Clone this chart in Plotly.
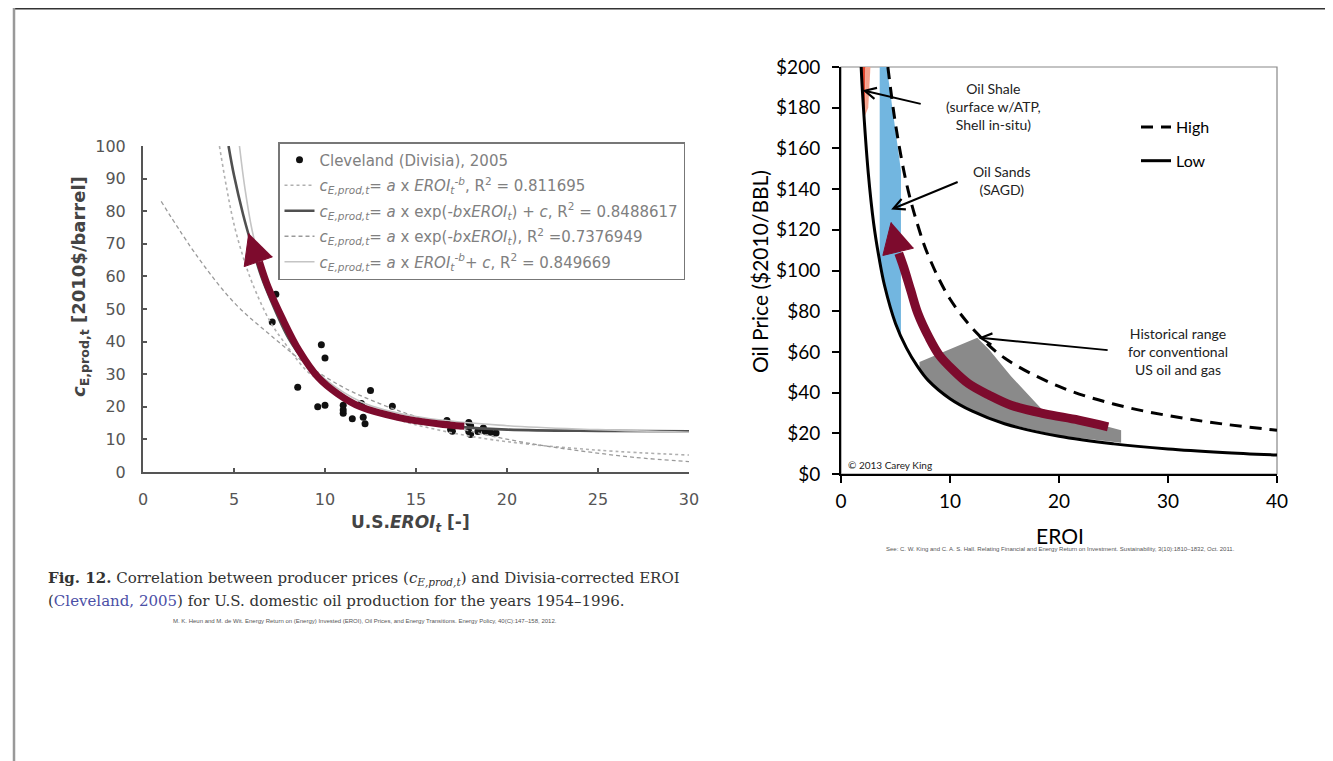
import plotly.graph_objects as go

W, H = 1333, 761
OFF = 8  # page body margin applied by the browser

# ---------------- Left chart data (Heun & de Wit, Fig. 12) ----------------
cleveland_eroi = [7.3, 7.1, 8.5, 9.6, 9.8, 10.0, 10.0, 11.0, 11.0, 11.0, 11.5, 12.1, 12.2, 12.0, 12.5,
                  13.7, 16.7, 16.9, 17.9, 17.9, 18.0, 18.0, 18.4, 18.8, 19.1, 19.4, 18.7, 17.0]
cleveland_price = [54.5, 46.0, 26.0, 20.0, 39.0, 35.0, 20.5, 20.5, 18.0, 19.0, 16.3, 16.8, 14.8, 21.0, 25.0,
                   20.2, 15.8, 13.0, 15.2, 12.4, 11.5, 14.2, 12.4, 12.5, 12.2, 12.0, 13.5, 12.5]

fit_power_x = [4.2, 4.6, 5, 5.5, 6, 7, 8, 9, 10, 12, 14, 17, 20, 25, 30]
fit_power_y = [100, 87, 76, 66, 58, 46, 38, 31, 27, 20, 16, 12, 9.3, 6.7, 5.2]

fit_expc_x = [4.7, 5, 5.5, 6, 6.5, 7, 8, 9, 10, 11, 12, 13, 15, 17, 20, 25, 30]
fit_expc_y = [100, 91, 79, 69, 60, 53, 41, 33, 27, 23, 20, 18, 15.2, 14, 13, 12.6, 12.5]

fit_exp_x = [1, 3, 5, 7, 9, 11, 13, 15, 18, 21, 24, 27, 30]
fit_exp_y = [83, 66, 52, 42, 33, 26, 21, 17, 12.5, 9, 6.5, 4.5, 3.2]

fit_powc_x = [5.3, 5.6, 6, 6.5, 7, 8, 9, 10, 12, 15, 20, 25, 30]
fit_powc_y = [100, 87, 74, 63, 54, 42, 34, 28.5, 21.5, 17, 14.2, 13, 12.2]

left_arrow_x = [17.65, 16.2, 14.06, 11.95, 10.7, 9.6, 8.56, 7.7, 6.87, 6.4]
left_arrow_y = [14.0, 14.8, 16.7, 20.0, 24.0, 29.2, 37.4, 46.6, 56.8, 64.5]
left_head_x = [5.81, 5.56, 7.12]
left_head_y = [73.2, 63.0, 66.0]

left_xticks = [0, 5, 10, 15, 20, 25, 30]
left_yticks = [0, 10, 20, 30, 40, 50, 60, 70, 80, 90, 100]

legend_names = [
    "Cleveland (Divisia), 2005",
    "<i>c<sub>E,prod,t</sub></i>= <i>a</i> x <i>EROI<sub>t</sub><sup>-b</sup></i>, R<sup>2</sup> = 0.811695",
    "<i>c<sub>E,prod,t</sub></i>= <i>a</i> x exp(-<i>b</i>x<i>EROI<sub>t</sub></i>) + <i>c</i>, R<sup>2</sup> = 0.8488617",
    "<i>c<sub>E,prod,t</sub></i>= <i>a</i> x exp(-<i>b</i>x<i>EROI<sub>t</sub></i>), R<sup>2</sup> =0.7376949",
    "<i>c<sub>E,prod,t</sub></i>= <i>a</i> x <i>EROI<sub>t</sub><sup>-b</sup></i>+ <i>c</i>, R<sup>2</sup> = 0.849669",
]

# ---------------- Right chart data (King & Hall) ----------------
low_eroi = [1.85, 2, 2.5, 3, 3.5, 4, 5, 6, 7, 8, 10, 12, 15, 20, 25, 30, 35, 40]
low_price = [200, 185, 148, 123, 106, 92.5, 74, 62, 53, 46, 37, 31, 24.7, 18.5, 14.8, 12.3, 10.6, 9.3]
high_eroi = [4.3, 5, 6, 7, 8, 10, 12.5, 15, 20, 25, 30, 35, 40]
high_price = [200, 172, 143, 123, 107.5, 86, 69, 57, 43, 34.4, 28.7, 24.6, 21.5]

shale_dark_x = [1.82, 2.25, 2.2, 1.98]
shale_dark_y = [200, 200, 176, 180]
shale_light_x = [2.25, 2.7, 2.5, 2.2]
shale_light_y = [200, 200, 180, 176]

sands_x = [3.55, 4.2, 5.5, 5.5, 5.0, 4.5, 4.0, 3.55]
sands_y = [200, 200, 149, 68, 74, 82, 92.5, 104]

hist_x = [7.2, 9, 12.5, 13.6, 15.6, 18.4, 25.7, 25.7, 20, 15, 12, 10, 8.5, 7.2]
hist_y = [55, 59, 67, 61, 48, 32, 21.5, 15.3, 18.8, 25, 31, 37.2, 43.8, 51.5]

right_arrow_x = [24.5, 21.8, 18.6, 15.6, 13.6, 11.7, 10.3, 9.03, 8.05, 7.06, 6.4, 5.75, 5.3]
right_arrow_y = [23.2, 26.5, 29.7, 33.8, 38.7, 44.4, 51.0, 58.3, 67.3, 78.8, 90.2, 101.6, 108.5]
right_head_x = [4.6, 3.84, 6.67]
right_head_y = [123.7, 107.4, 111.0]

right_xticks = [0, 10, 20, 30, 40]
right_yticks = [0, 20, 40, 60, 80, 100, 120, 140, 160, 180, 200]
right_yticklabels = ["$0", "$20", "$40", "$60", "$80", "$100", "$120", "$140", "$160", "$180", "$200"]

MAROON = "#7d0b2d"


def px(x):
    return (x - OFF) / W


def py(y):
    return 1 - (y - OFF) / H


fig = go.Figure()

# ---- left chart traces ----
fig.add_trace(go.Scatter(x=cleveland_eroi, y=cleveland_price, mode="markers", name=legend_names[0],
                         marker=dict(color="#111111", size=7), xaxis="x", yaxis="y",
                         legend="legend", legendgroup="a"))
fig.add_trace(go.Scatter(x=fit_power_x, y=fit_power_y, mode="lines", name=legend_names[1], line_shape="spline",
                         line=dict(color="#b0b0b0", width=1.6, dash="dot"), xaxis="x", yaxis="y",
                         legend="legend", legendgroup="b"))
fig.add_trace(go.Scatter(x=fit_expc_x, y=fit_expc_y, mode="lines", name=legend_names[2], line_shape="spline",
                         line=dict(color="#505050", width=2.6), xaxis="x", yaxis="y",
                         legend="legend", legendgroup="c"))
fig.add_trace(go.Scatter(x=fit_exp_x, y=fit_exp_y, mode="lines", name=legend_names[3], line_shape="spline",
                         line=dict(color="#9a9a9a", width=1.3, dash="4px,3px"), xaxis="x", yaxis="y",
                         legend="legend", legendgroup="d"))
fig.add_trace(go.Scatter(x=fit_powc_x, y=fit_powc_y, mode="lines", name=legend_names[4], line_shape="spline",
                         line=dict(color="#c4c4c4", width=1.6), xaxis="x", yaxis="y",
                         legend="legend", legendgroup="e"))
fig.add_trace(go.Scatter(x=left_arrow_x, y=left_arrow_y, mode="lines", line_shape="spline",
                         line=dict(color=MAROON, width=7), xaxis="x", yaxis="y", showlegend=False,
                         hoverinfo="skip"))
fig.add_trace(go.Scatter(x=left_head_x, y=left_head_y, mode="lines", fill="toself", fillcolor=MAROON,
                         line=dict(color=MAROON, width=1), xaxis="x", yaxis="y", showlegend=False,
                         hoverinfo="skip"))

# ---- right chart traces ----
fig.add_trace(go.Scatter(x=shale_dark_x, y=shale_dark_y, fill="toself", fillcolor="#e2462d", mode="lines",
                         line=dict(width=0, color="#e2462d"), xaxis="x2", yaxis="y2", showlegend=False,
                         hoverinfo="skip"))
fig.add_trace(go.Scatter(x=shale_light_x, y=shale_light_y, fill="toself", fillcolor="#f6a28c", mode="lines",
                         line=dict(width=0, color="#f6a28c"), xaxis="x2", yaxis="y2", showlegend=False,
                         hoverinfo="skip"))
fig.add_trace(go.Scatter(x=sands_x, y=sands_y, fill="toself", fillcolor="#72b6e0", mode="lines",
                         line=dict(width=0, color="#72b6e0"), xaxis="x2", yaxis="y2", showlegend=False,
                         hoverinfo="skip"))
fig.add_trace(go.Scatter(x=hist_x, y=hist_y, fill="toself", fillcolor="#8a8a8a", mode="lines",
                         line=dict(width=0, color="#8a8a8a"), xaxis="x2", yaxis="y2", showlegend=False,
                         hoverinfo="skip"))
fig.add_trace(go.Scatter(x=high_eroi, y=high_price, mode="lines", name="High", line_shape="spline",
                         line=dict(color="black", width=3, dash="12px,8px"), xaxis="x2", yaxis="y2",
                         legend="legend2", legendgroup="h"))
fig.add_trace(go.Scatter(x=low_eroi, y=low_price, mode="lines", name="Low", line_shape="spline",
                         line=dict(color="black", width=3), xaxis="x2", yaxis="y2",
                         legend="legend2", legendgroup="l"))
fig.add_trace(go.Scatter(x=right_arrow_x, y=right_arrow_y, mode="lines", line_shape="spline",
                         line=dict(color=MAROON, width=9), xaxis="x2", yaxis="y2", showlegend=False,
                         hoverinfo="skip"))
fig.add_trace(go.Scatter(x=right_head_x, y=right_head_y, mode="lines", fill="toself", fillcolor=MAROON,
                         line=dict(color=MAROON, width=1), xaxis="x2", yaxis="y2", showlegend=False,
                         hoverinfo="skip"))

LEFT_FONT = "DejaVu Sans, Arial, sans-serif"
RIGHT_FONT = "Lato, Calibri, Carlito, sans-serif"

fig.update_layout(
    width=W, height=H,
    margin=dict(l=0, r=0, t=0, b=0, pad=0, autoexpand=False),
    paper_bgcolor="white", plot_bgcolor="rgba(0,0,0,0)",
    showlegend=True,
    xaxis=dict(domain=[px(143), px(689)], range=[0, 30], tickvals=left_xticks, ticks="inside", ticklen=4,
               tickwidth=1.5, tickcolor="#555", showline=True, linecolor="#555", linewidth=2,
               showgrid=False, zeroline=False, tickfont=dict(family=LEFT_FONT, size=16, color="#555"),
               ticklabelstandoff=12, anchor="y", fixedrange=True, automargin=False),
    yaxis=dict(domain=[py(472), py(146)], range=[0, 100], tickvals=left_yticks, ticks="inside", ticklen=4,
               tickwidth=1.5, tickcolor="#555", showline=True, linecolor="#555", linewidth=2,
               showgrid=False, zeroline=False, tickfont=dict(family=LEFT_FONT, size=16, color="#555"),
               ticklabelstandoff=12, anchor="x", fixedrange=True, automargin=False),
    xaxis2=dict(domain=[px(841), px(1277)], range=[0, 40], tickvals=right_xticks, ticks="outside", ticklen=7,
                tickwidth=1.5, tickcolor="black", showline=True, linecolor="black", linewidth=2,
                showgrid=False, zeroline=False, tickfont=dict(family=RIGHT_FONT, size=19, color="black"),
                ticklabelstandoff=2, anchor="y2", fixedrange=True, automargin=False),
    yaxis2=dict(domain=[py(474), py(67)], range=[0, 200], tickvals=right_yticks, ticktext=right_yticklabels,
                ticks="outside", ticklen=7, tickwidth=1.5, tickcolor="black", showline=True,
                linecolor="black", linewidth=2, showgrid=False, zeroline=False,
                tickfont=dict(family=RIGHT_FONT, size=19, color="black"), ticklabelstandoff=8,
                anchor="x2", fixedrange=True, automargin=False),
    legend=dict(x=px(278), y=py(142), xanchor="left", yanchor="top", bgcolor="white",
                bordercolor="#777", borderwidth=1.5, tracegroupgap=3,
                font=dict(family=LEFT_FONT, size=15, color="#808080")),
    legend2=dict(x=px(1136), y=py(110), xanchor="left", yanchor="top", bgcolor="rgba(0,0,0,0)",
                 borderwidth=0, tracegroupgap=10,
                 font=dict(family=RIGHT_FONT, size=16, color="black")),
)

# right chart frame (top/right light border)
fig.add_shape(type="rect", xref="x2 domain", yref="y2 domain", x0=0, x1=1, y0=0, y1=1,
              line=dict(color="#888", width=1.2), layer="below")

# slide frame
fig.add_shape(type="line", xref="paper", yref="paper", x0=px(14), x1=1, y0=py(8.8), y1=py(8.8),
              line=dict(color="#333", width=1.5))
fig.add_shape(type="line", xref="paper", yref="paper", x0=px(14), x1=px(14), y0=py(8), y1=0,
              line=dict(color="#999", width=2.5))

annotations = []


def note(x, y, text, font, **kw):
    d = dict(xref="paper", yref="paper", x=px(x), y=py(y), text=text, showarrow=False,
             xanchor="center", yanchor="middle", font=font)
    d.update(kw)
    annotations.append(d)


# axis titles
note(80, 287, "<b><i>c</i><sub>E,prod,t</sub> [2010$/barrel]</b>",
     dict(family=LEFT_FONT, size=18, color="#444"), textangle=-90)
note(410, 523, "<b>U.S.<i>EROI<sub>t</sub></i> [-]</b>", dict(family=LEFT_FONT, size=17, color="#444"))
note(759, 271, "Oil Price ($2010/BBL)", dict(family=RIGHT_FONT, size=21, color="black"), textangle=-90)
note(1060, 535, "EROI", dict(family=RIGHT_FONT, size=21, color="black"))
# captions
SERIF = "DejaVu Serif, Liberation Serif, serif"
note(46, 578, "<b>Fig. 12.</b> Correlation between producer prices (<i>c<sub>E,prod,t</sub></i>) and Divisia-corrected EROI",
     dict(family=SERIF, size=15, color="#333"), xanchor="left")
note(46, 601, "(<span style='color:#4b4fa6'>Cleveland, 2005</span>) for U.S. domestic oil production for the years 1954–1996.",
     dict(family=SERIF, size=15, color="#333"), xanchor="left")
note(365, 621, "M. K. Heun and M. de Wit. Energy Return on (Energy) Invested (EROI), Oil Prices, and Energy Transitions. Energy Policy, 40(C):147–158, 2012.",
     dict(family="Liberation Sans, Arial, sans-serif", size=6, color="#555"))
note(1060, 549, "See: C. W. King and C. A. S. Hall. Relating Financial and Energy Return on Investment. Sustainability, 3(10):1810–1832, Oct. 2011.",
     dict(family="Liberation Sans, Arial, sans-serif", size=6, color="#555"))


def dnote(x, y, text, size=14, **kw):
    d = dict(xref="x2", yref="y2", x=x, y=y, text=text, showarrow=False, xanchor="center",
             yanchor="middle", font=dict(family=RIGHT_FONT, size=size, color="#222"))
    d.update(kw)
    annotations.append(d)


dnote(14.0, 180.5, "Oil Shale<br>(surface w/ATP,<br>Shell in-situ)")
dnote(14.8, 144, "Oil Sands<br>(SAGD)")
dnote(30.9, 60, "Historical range<br>for conventional<br>US oil and gas")
dnote(0.45, 4.5, "© 2013 Carey King", size=10, xanchor="left")

# arrows
for (tx, ty, hx, hy) in [(7.45, 181.7, 1.97, 188.6), (10.84, 143.8, 4.6, 130.0), (24.6, 60.8, 12.6, 67.0)]:
    annotations.append(dict(xref="x2", yref="y2", axref="x2", ayref="y2", x=hx, y=hy, ax=tx, ay=ty,
                            text="", showarrow=True, arrowhead=5, arrowsize=1.1, arrowwidth=2,
                            arrowcolor="black"))

fig.update_layout(annotations=annotations)

fig.write_html("out.html")
